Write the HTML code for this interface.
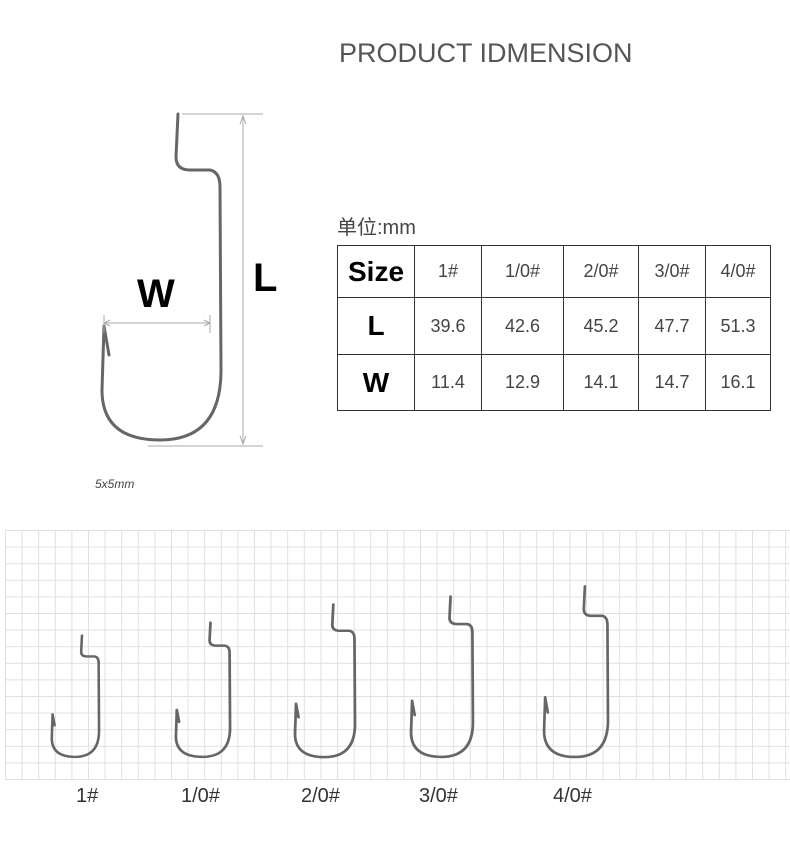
<!DOCTYPE html>
<html><head><meta charset="utf-8"><style>
body{margin:0;background:#fff;width:790px;height:842px;overflow:hidden;position:relative;font-family:"Liberation Sans","Noto Sans CJK SC",sans-serif}
.t{position:absolute;white-space:nowrap}
table{position:absolute;left:337px;top:245px;border-collapse:collapse}
td{border:1.5px solid #333;text-align:center;color:#444;font-size:18px;padding:0}
td.h{font-weight:bold;color:#000;font-size:28px}
</style></head><body>
<svg width="790" height="842" style="position:absolute;left:0;top:0">
<defs>
<pattern id="g" x="5" y="530" width="16.6" height="16.6" patternUnits="userSpaceOnUse">
<path d="M0,0 V16.6 M0,0 H16.6" stroke="#e0e0e0" stroke-width="2" fill="none"/>
</pattern>
<path id="hk" d="M78,-1 L76,42 Q76,55 90,55 L110,55 Q120,57 120,72 L121,255 Q121,325 60,325 Q2,325 2,275 L4,211 M4,211 L9,240" fill="none"/>
</defs>
<rect x="5" y="530" width="785" height="250" fill="url(#g)"/>
<g stroke="#666" fill="none" stroke-linecap="round">
<use href="#hk" stroke-width="3" transform="translate(100,115)"/>
<use href="#hk" stroke-width="6.5" transform="translate(51,636) scale(0.397,0.372)"/>
<use href="#hk" stroke-width="6" transform="translate(175,623) scale(0.455,0.412)"/>
<use href="#hk" stroke-width="5.5" transform="translate(294,605) scale(0.504,0.468)"/>
<use href="#hk" stroke-width="5.3" transform="translate(410,597) scale(0.52,0.492)"/>
<use href="#hk" stroke-width="5" transform="translate(543,587) scale(0.537,0.523)"/>
</g>
<g stroke="#aaa" stroke-width="1" fill="none">
<path d="M182,114 H263 M148,446 H263"/>
<path d="M243,116 V444"/>
<path d="M240,124 L243,116 L246,124 M240,436 L243,444 L246,436"/>
<path d="M104,323 H210 M104,315 V333 M210,315 V333"/>
<path d="M110,320 L104,323 L110,326 M204,320 L210,323 L204,326"/>
</g>
</svg>
<div class="t" style="left:339px;top:38px;font-size:27px;color:#555">PRODUCT IDMENSION</div>
<div class="t" style="left:137px;top:272px;font-size:40px;font-weight:bold">W</div>
<div class="t" style="left:253px;top:256px;font-size:40px;font-weight:bold">L</div>
<div class="t" style="left:95px;top:477px;font-size:12px;font-style:italic;color:#444">5x5mm</div>
<div class="t" style="left:337px;top:211px;font-size:20px;color:#444">单位:mm</div>
<table>
<tr style="height:52px"><td class="h" style="width:76px">Size</td><td style="width:66px">1#</td><td style="width:81px">1/0#</td><td style="width:74px">2/0#</td><td style="width:66px">3/0#</td><td style="width:64px">4/0#</td></tr>
<tr style="height:57px"><td class="h">L</td><td>39.6</td><td>42.6</td><td>45.2</td><td>47.7</td><td>51.3</td></tr>
<tr style="height:56px"><td class="h">W</td><td>11.4</td><td>12.9</td><td>14.1</td><td>14.7</td><td>16.1</td></tr>
</table>
<div class="t" style="left:76px;top:785px;font-size:20px;color:#333">1#</div>
<div class="t" style="left:181px;top:785px;font-size:20px;color:#333">1/0#</div>
<div class="t" style="left:301px;top:785px;font-size:20px;color:#333">2/0#</div>
<div class="t" style="left:419px;top:785px;font-size:20px;color:#333">3/0#</div>
<div class="t" style="left:553px;top:785px;font-size:20px;color:#333">4/0#</div>
</body></html>
